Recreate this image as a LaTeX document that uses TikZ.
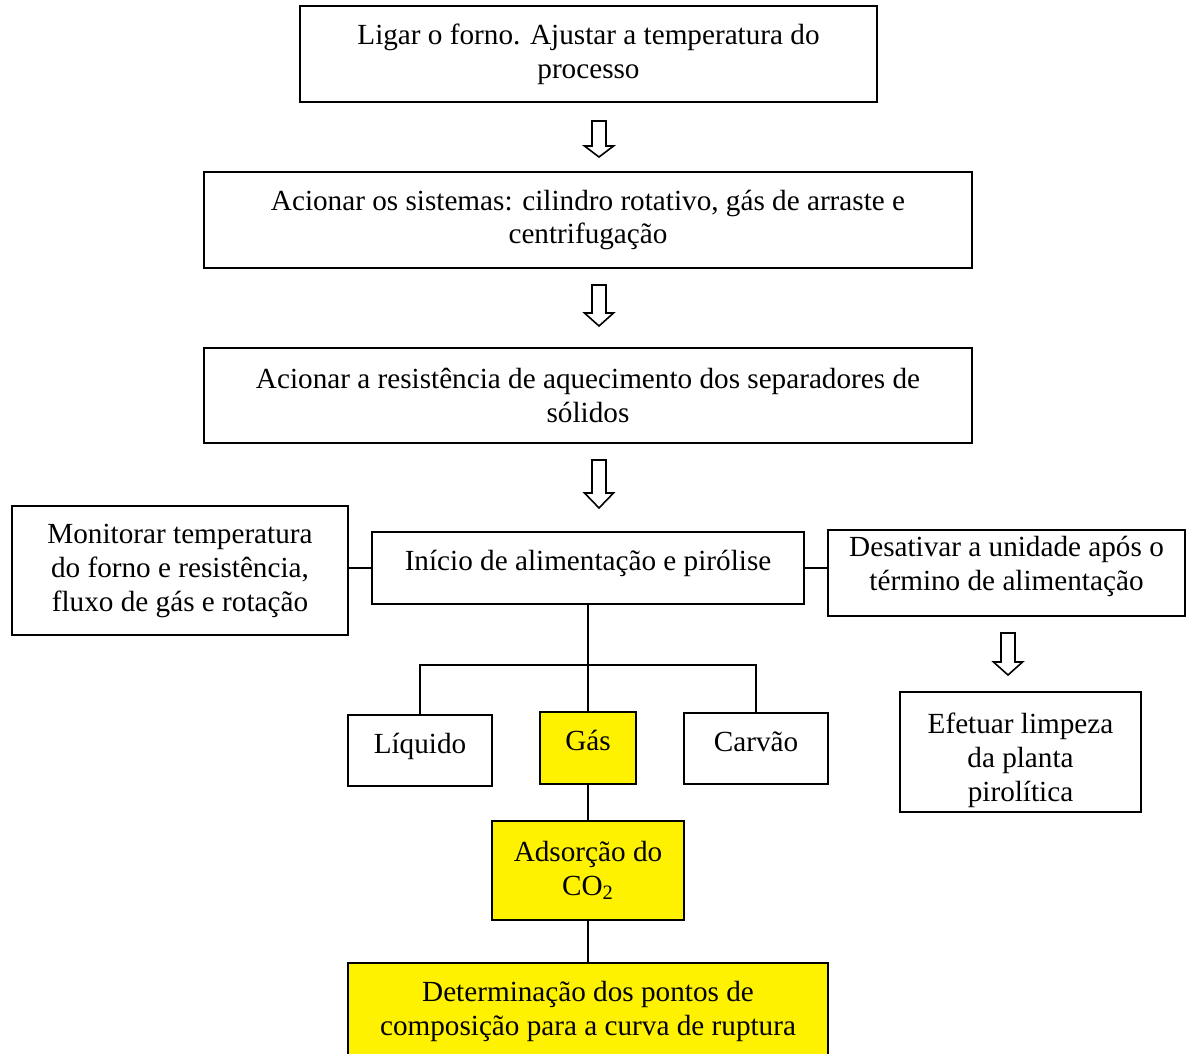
\documentclass[tikz,border=0pt]{standalone}
\usepackage{fontspec}
\setmainfont{Liberation Serif}
\usetikzlibrary{positioning}

% seta vazada entre etapas: x, topo, inicio da ponta, ponta
\newcommand{\blockarrow}[4]{%
    \draw[line width = 0.8pt, line join = miter]
        ({#1-7},#2) -- ({#1+7},#2) -- ({#1+7},#3) -- ({#1+14.5},#3)
        -- (#1,#4) -- ({#1-14.5},#3) -- ({#1-7},#3) -- cycle;%
}

\begin{document}
\begin{tikzpicture}
        [
        x = 0.5pt, y = -0.5pt,
        line width = 0.9pt,
        box/.style = {
            draw, rectangle,
            align = center,
            inner sep = 0pt,
            font = \fontsize{14.6}{17}\selectfont,
        },
        hot/.style = {
            box, fill = yellow,
        },
        high/.style = {
            text height = 10pt, text depth = 7.5pt,
        },
        ]

        \useasboundingbox (0,0) rectangle (1186,1053);

        % Etapas principais
        \node[box, minimum width = 288.5pt, minimum height = 48pt] (ligar) at (588.5,54)
            {Ligar o forno. Ajustar a temperatura do\\processo};
        \node[box, minimum width = 384pt, minimum height = 48pt] (acionar) at (588,220)
            {Acionar os sistemas: cilindro rotativo, gás de arraste e\\centrifugação};
        \node[box, minimum width = 384pt, minimum height = 47.5pt] (resistencia) at (588,395.5)
            {Acionar a resistência de aquecimento dos separadores de\\sólidos};

        % Alimentacao
        \node[box, high, minimum width = 216pt, minimum height = 36pt] (inicio) at (588,568)
            {Início de alimentação e pirólise};
        \node[box, minimum width = 168pt, minimum height = 64.5pt] (monitorar) at (180,570.5)
            {Monitorar temperatura\\do forno e resistência,\\fluxo de gás e rotação};
        \node[box, text depth = 9.5pt, minimum width = 178.5pt, minimum height = 43pt] (desativar) at (1006.5,573)
            {Desativar a unidade após o\\término de alimentação};
        \node[box, text height = 53pt, minimum width = 120.5pt, minimum height = 60pt] (limpeza) at (1020.5,752)
            {Efetuar limpeza\\da planta\\pirolítica};

        % Produtos
        \node[box, high, minimum width = 72pt, minimum height = 35.5pt] (liquido) at (420,750.5)
            {Líquido};
        \node[hot, high, minimum width = 48pt, minimum height = 36pt] (gas) at (588,748)
            {Gás};
        \node[box, high, minimum width = 72pt, minimum height = 35.5pt] (carvao) at (756,748.5)
            {Carvão};
        \node[hot, minimum width = 96pt, minimum height = 49.5pt] (adsorcao) at (588,870.5)
            {Adsorção do\\CO\textsubscript{2}};
        \node[hot, minimum width = 240pt, minimum height = 48.5pt] (curva) at (588,1011.5)
            {Determinação dos pontos de\\composição para a curva de ruptura};

        % Setas vazadas
        \blockarrow{599}{121}{146}{157}
        \blockarrow{599}{285}{313}{326}
        \blockarrow{599}{460}{493}{508}
        \blockarrow{1008}{633}{662}{675}

        % Ligacoes
        \coordinate (split) at (588,665);
        \draw (inicio.west) -- (inicio.west -| monitorar.east);
        \draw (inicio.east) -- (inicio.east -| desativar.west);
        \draw (inicio.south) -- (split);
        \draw (liquido.north) |- (split) -| (carvao.north);
        \draw (split) -- (gas.north);
        \draw (gas) -- (adsorcao);
        \draw (adsorcao) -- (curva);
\end{tikzpicture}
\end{document}
